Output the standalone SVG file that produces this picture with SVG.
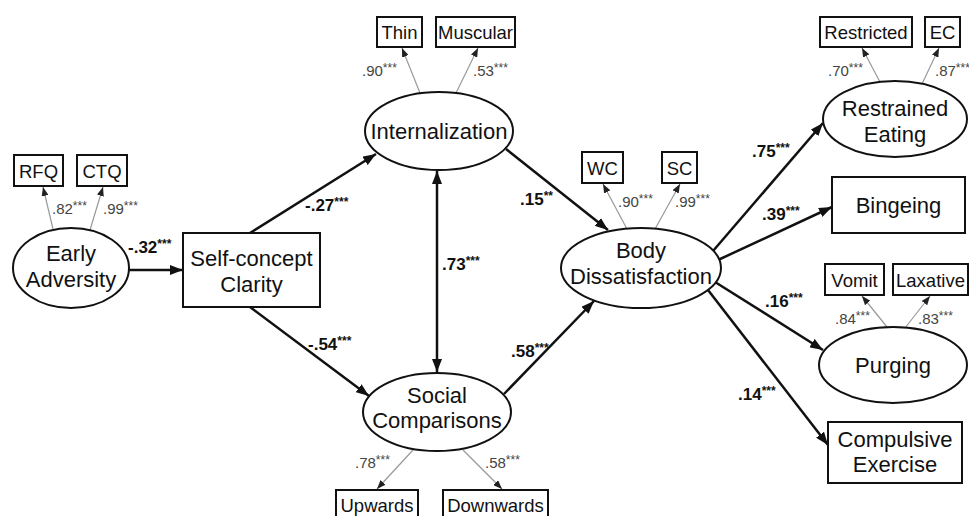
<svg xmlns="http://www.w3.org/2000/svg" width="969" height="516" viewBox="0 0 969 516">
<defs>
<marker id="ah" markerUnits="userSpaceOnUse" markerWidth="14" markerHeight="10" refX="13" refY="5" orient="auto-start-reverse"><path d="M0,0 L13,5 L0,10 z" fill="#111"/></marker>
<marker id="ahs" markerUnits="userSpaceOnUse" markerWidth="9" markerHeight="7" refX="9" refY="3.5" orient="auto"><path d="M0,0 L9,3.5 L0,7 z" fill="#222"/></marker>
<style>
.n{fill:#fff;stroke:#111;stroke-width:2}
.t{font-family:"Liberation Sans",Arial,sans-serif;font-size:22px;fill:#111;text-anchor:middle}
.ti{font-family:"Liberation Sans",Arial,sans-serif;font-size:18.5px;fill:#111;text-anchor:middle}
.e{stroke:#111;stroke-width:2.5;fill:none;marker-end:url(#ah)}
.l{stroke:#999;stroke-width:1.2;fill:none;marker-end:url(#ahs)}
.el{font-family:"Liberation Sans",Arial,sans-serif;font-size:17px;font-weight:bold;fill:#111}
.ll{font-family:"Liberation Sans",Arial,sans-serif;font-size:15px;fill:#444}
.s{font-size:12px}
</style>
</defs>
<g id="connectors">
<line class="e" x1="129" y1="270" x2="183" y2="270"/>
<line class="e" x1="250" y1="233" x2="376" y2="154"/>
<line class="e" x1="250" y1="307" x2="369" y2="396"/>
<line class="e" x1="437" y1="171" x2="437" y2="372" marker-start="url(#ah)"/>
<line class="e" x1="506" y1="149" x2="608" y2="230"/>
<line class="e" x1="504" y1="394" x2="594" y2="301"/>
<line class="e" x1="713" y1="251" x2="823" y2="123"/>
<line class="e" x1="718" y1="260" x2="832" y2="207"/>
<line class="e" x1="715" y1="282" x2="823" y2="350"/>
<line class="e" x1="708" y1="290" x2="828" y2="445"/>
<line class="l" x1="53" y1="229" x2="43" y2="187"/>
<line class="l" x1="90" y1="230" x2="103" y2="187"/>
<line class="l" x1="420" y1="93" x2="402" y2="48"/>
<line class="l" x1="456" y1="93" x2="478" y2="48"/>
<line class="l" x1="627" y1="229" x2="603" y2="184"/>
<line class="l" x1="655" y1="229" x2="680" y2="184"/>
<line class="l" x1="880" y1="82" x2="862" y2="48"/>
<line class="l" x1="922" y1="84" x2="939" y2="48"/>
<line class="l" x1="887" y1="327" x2="862" y2="296"/>
<line class="l" x1="905" y1="328" x2="930" y2="296"/>
<line class="l" x1="413" y1="450" x2="377" y2="489"/>
<line class="l" x1="463" y1="450" x2="502" y2="489"/>
<text class="el" x="128" y="253">-.32<tspan class="s" dy="-5">***</tspan></text>
<text class="el" x="305" y="211">-.27<tspan class="s" dy="-5">***</tspan></text>
<text class="el" x="308" y="350">-.54<tspan class="s" dy="-5">***</tspan></text>
<text class="el" x="442" y="270">.73<tspan class="s" dy="-5">***</tspan></text>
<text class="el" x="520" y="205">.15<tspan class="s" dy="-5">**</tspan></text>
<text class="el" x="511" y="357">.58<tspan class="s" dy="-5">***</tspan></text>
<text class="el" x="752" y="157">.75<tspan class="s" dy="-5">***</tspan></text>
<text class="el" x="762" y="220">.39<tspan class="s" dy="-5">***</tspan></text>
<text class="el" x="765" y="307">.16<tspan class="s" dy="-5">***</tspan></text>
<text class="el" x="738" y="400">.14<tspan class="s" dy="-5">***</tspan></text>
<text class="ll" x="52" y="214">.82<tspan class="s" dy="-4">***</tspan></text>
<text class="ll" x="103" y="214">.99<tspan class="s" dy="-4">***</tspan></text>
<text class="ll" x="362" y="76">.90<tspan class="s" dy="-4">***</tspan></text>
<text class="ll" x="473" y="76">.53<tspan class="s" dy="-4">***</tspan></text>
<text class="ll" x="618" y="207">.90<tspan class="s" dy="-4">***</tspan></text>
<text class="ll" x="675" y="207">.99<tspan class="s" dy="-4">***</tspan></text>
<text class="ll" x="828" y="76">.70<tspan class="s" dy="-4">***</tspan></text>
<text class="ll" x="935" y="76">.87<tspan class="s" dy="-4">***</tspan></text>
<text class="ll" x="835" y="324">.84<tspan class="s" dy="-4">***</tspan></text>
<text class="ll" x="918" y="324">.83<tspan class="s" dy="-4">***</tspan></text>
<text class="ll" x="355" y="468">.78<tspan class="s" dy="-4">***</tspan></text>
<text class="ll" x="485" y="468">.58<tspan class="s" dy="-4">***</tspan></text>
</g>
<g id="early-adversity"><ellipse class="n" cx="71" cy="268" rx="58" ry="40"/><text class="t" x="71" y="261">Early</text><text class="t" x="71" y="287">Adversity</text></g>
<g id="rfq"><rect class="n" x="14" y="155" width="49" height="31"/><text class="ti" x="38.5" y="177.5">RFQ</text></g>
<g id="ctq"><rect class="n" x="77" y="155" width="50" height="31"/><text class="ti" x="102" y="177.5">CTQ</text></g>
<g id="self-concept"><rect class="n" x="183" y="233" width="137" height="74"/><text class="t" x="251.5" y="266">Self-concept</text><text class="t" x="251.5" y="292">Clarity</text></g>
<g id="internalization"><ellipse class="n" cx="439" cy="131" rx="74" ry="39"/><text class="t" x="439" y="139">Internalization</text></g>
<g id="thin"><rect class="n" x="377" y="17" width="45" height="30"/><text class="ti" x="399.5" y="39">Thin</text></g>
<g id="muscular"><rect class="n" x="436" y="17" width="79" height="30"/><text class="ti" x="475.5" y="39">Muscular</text></g>
<g id="social"><ellipse class="n" cx="437" cy="412" rx="74" ry="39"/><text class="t" x="437" y="403">Social</text><text class="t" x="437" y="428">Comparisons</text></g>
<g id="upwards"><rect class="n" x="336" y="490" width="82" height="32"/><text class="ti" x="377" y="512">Upwards</text></g>
<g id="downwards"><rect class="n" x="443" y="490" width="105" height="32"/><text class="ti" x="495.5" y="512">Downwards</text></g>
<g id="body"><ellipse class="n" cx="641" cy="268" rx="80" ry="40"/><text class="t" x="641" y="258">Body</text><text class="t" x="641" y="284">Dissatisfaction</text></g>
<g id="wc"><rect class="n" x="582" y="152" width="41" height="31"/><text class="ti" x="602.5" y="174.5">WC</text></g>
<g id="sc"><rect class="n" x="662" y="152" width="35" height="31"/><text class="ti" x="679.5" y="174.5">SC</text></g>
<g id="restrained"><ellipse class="n" cx="895" cy="119" rx="72" ry="38"/><text class="t" x="895" y="116">Restrained</text><text class="t" x="895" y="142">Eating</text></g>
<g id="restricted"><rect class="n" x="820" y="17" width="92" height="30"/><text class="ti" x="866" y="39">Restricted</text></g>
<g id="ec"><rect class="n" x="925" y="17" width="35" height="30"/><text class="ti" x="942.5" y="39">EC</text></g>
<g id="bingeing"><rect class="n" x="832" y="177" width="133" height="56"/><text class="t" x="898.5" y="213">Bingeing</text></g>
<g id="purging"><ellipse class="n" cx="893" cy="365" rx="74" ry="38"/><text class="t" x="893" y="373">Purging</text></g>
<g id="vomit"><rect class="n" x="825" y="264" width="59" height="31"/><text class="ti" x="854.5" y="286.5">Vomit</text></g>
<g id="laxative"><rect class="n" x="893" y="264" width="75" height="31"/><text class="ti" x="930.5" y="286.5">Laxative</text></g>
<g id="compulsive"><rect class="n" x="828" y="422" width="134" height="61"/><text class="t" x="895" y="447">Compulsive</text><text class="t" x="895" y="472">Exercise</text></g>
</svg>
